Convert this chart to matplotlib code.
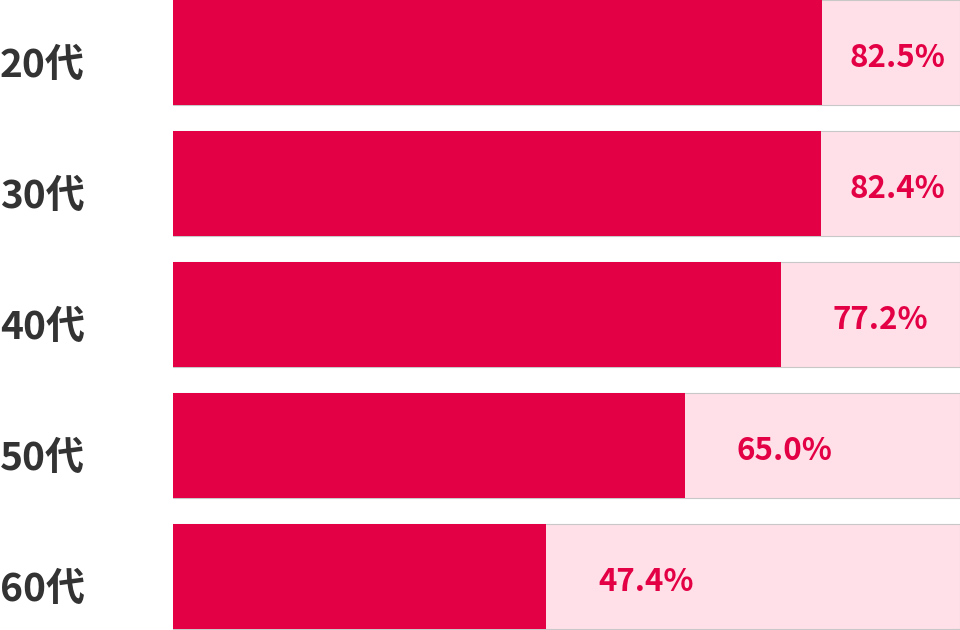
import matplotlib.pyplot as plt
import matplotlib.transforms as mtransforms
import numpy as np

plt.rcParams['font.family'] = ['Noto Sans CJK JP', 'DejaVu Sans']

# data
ages = ['20代', '30代', '40代', '50代', '60代']
rates = [82.5, 82.4, 77.2, 65.0, 47.4]

red = '#e30044'
pink = '#ffe0e8'

fig = plt.figure(figsize=(9.6, 6.3), dpi=100)
ax = fig.add_axes([173 / 960, 0, 787 / 960, 1])

y = np.arange(len(ages))
h = 105 / 131
ax.barh(y, [100] * len(ages), height=h, color=pink, edgecolor='#c8c8c8', linewidth=0.8)
ax.barh(y, rates, height=h, color=red, linewidth=0)

lab_tr = mtransforms.blended_transform_factory(fig.transFigure, ax.transData)
for i, (a, r) in enumerate(zip(ages, rates)):
    # label sits ~100px past the bar end, but not beyond the right side
    xt = min(r + 100 / 787 * 100, 92.0)
    ax.text(xt, i + 0.045, f'{r:.1f}%', ha='center', va='center', color=red,
            fontsize=22.5, fontweight='bold')
    ax.text(0, i + 0.095, a, transform=lab_tr, ha='left', va='center',
            color='#333333', fontsize=28, fontweight='bold')

ax.set_xlim(0, 100)
ax.set_ylim((630 - 52.5) / 131, -52.5 / 131)
ax.axis('off')

fig.savefig('out.png', dpi=100)
